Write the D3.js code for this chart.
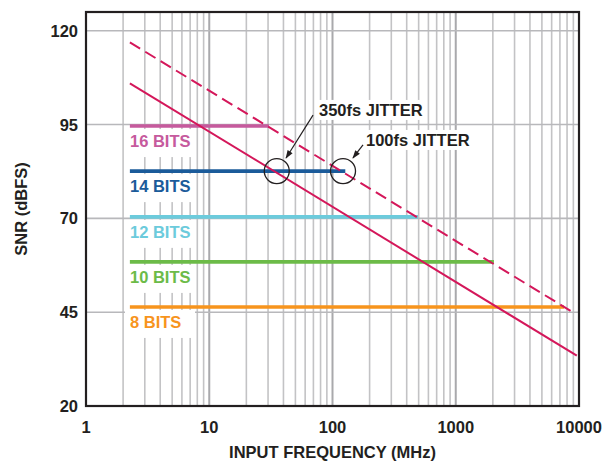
<!DOCTYPE html>
<html><head><meta charset="utf-8">
<script src="https://cdn.jsdelivr.net/npm/d3@7"></script>
<style>body{margin:0;background:#fff}svg{display:block}text{font-family:"Liberation Sans",Arial,sans-serif;font-weight:bold}</style>
</head><body>
<svg id="c" width="611" height="461"></svg>
<script>
// ---- data ----
const xTicks = [1, 10, 100, 1000, 10000];
const yTicks = [20, 45, 70, 95, 120];
const bitLabels = ["16 BITS", "14 BITS", "12 BITS", "10 BITS", "8 BITS"];
const bitSNR = [94.6, 82.6, 70.4, 58.4, 46.4];
const bitStart = [2.27, 2.27, 2.27, 2.27, 2.27];
const bitEnd = [30.5, 127, 494, 2040, 7560];
const bitColors = ["#c65a9d", "#1b5b9a", "#6ccbdc", "#6cbb48", "#f7941d"];
const jitter100fs = [[2.27, 116.9], [8900, 45.0]];
const jitter350fs = [[2.27, 106.0], [9600, 33.4]];
const circles = [[35.3, 82.6], [121.7, 82.6]];
const annLabels = ["350fs JITTER", "100fs JITTER"];
const annPos = [[77.7, 98.9], [187, 90.9]];
const arrows = [[[69.5, 97.5], [42.0, 86.1]], [[176.8, 89.6], [146.6, 86.1]]];

// ---- layout ----
const L = 86, R = 579, T = 12, B = 406;
const FS = 16.5;
const svg = d3.select("#c");
const x = d3.scaleLog().domain([1, 10000]).range([L, R]);
const y = d3.scaleLinear().domain([20, 125]).range([B, T]);
const ink = "#231f20", jitCol = "#d4175a";

// grid
const minor = [];
for (let d = 1; d < 10000; d *= 10) for (let k = 2; k <= 9; k++) minor.push(d * k);
svg.append("g").selectAll("line").data(minor).join("line")
  .attr("x1", d => x(d)).attr("x2", d => x(d)).attr("y1", T).attr("y2", B)
  .attr("stroke", "#c3c3c5").attr("stroke-width", 1.6);
svg.append("g").selectAll("line").data(xTicks.slice(1, -1)).join("line")
  .attr("x1", d => x(d)).attr("x2", d => x(d)).attr("y1", T).attr("y2", B)
  .attr("stroke", "#a9a9ac").attr("stroke-width", 2);
svg.append("g").selectAll("line").data(yTicks.slice(1)).join("line")
  .attr("x1", L).attr("x2", R).attr("y1", d => y(d)).attr("y2", d => y(d))
  .attr("stroke", "#b8b8bb").attr("stroke-width", 1.6);

// bit label boxes
svg.append("g").selectAll("rect").data(bitSNR).join("rect")
  .attr("x", 125).attr("width", 70).attr("y", d => y(d) + 3).attr("height", 28)
  .attr("fill", "#fff");

// bit lines
svg.append("g").selectAll("line").data(bitSNR).join("line")
  .attr("x1", (d, i) => x(bitStart[i])).attr("x2", (d, i) => x(bitEnd[i]))
  .attr("y1", d => y(d)).attr("y2", d => y(d))
  .attr("stroke", (d, i) => bitColors[i]).attr("stroke-width", 3.6);
svg.append("g").selectAll("text").data(bitLabels).join("text")
  .attr("x", 130).attr("y", (d, i) => y(bitSNR[i]) + 21)
  .attr("font-size", FS).attr("fill", (d, i) => bitColors[i]).text(d => d);

// jitter lines
const line = d3.line().x(d => x(d[0])).y(d => y(d[1]));
svg.append("path").datum(jitter350fs).attr("d", line).attr("fill", "none")
  .attr("stroke", jitCol).attr("stroke-width", 2);
svg.append("path").datum(jitter100fs).attr("d", line).attr("fill", "none")
  .attr("stroke", jitCol).attr("stroke-width", 2).attr("stroke-dasharray", "12,6");

// circles
svg.append("g").selectAll("circle").data(circles).join("circle")
  .attr("cx", d => x(d[0])).attr("cy", d => y(d[1])).attr("r", 12.5)
  .attr("fill", "none").attr("stroke", ink).attr("stroke-width", 1.3);

// annotation labels with white boxes
const ag = svg.append("g");
annLabels.forEach((t, i) => {
  const tx = ag.append("text").attr("x", x(annPos[i][0])).attr("y", y(annPos[i][1]) + 6)
    .attr("font-size", FS).attr("fill", ink).text(t);
  const bb = tx.node().getBBox();
  ag.insert("rect", "text").attr("x", bb.x - 3).attr("y", bb.y - 1)
    .attr("width", bb.width + 6).attr("height", bb.height + 2).attr("fill", "#fff");
});

// arrows
const defs = svg.append("defs");
defs.append("marker").attr("id", "ah").attr("viewBox", "0 0 10 10").attr("refX", 9).attr("refY", 5)
  .attr("markerWidth", 8).attr("markerHeight", 7).attr("orient", "auto")
  .append("path").attr("d", "M0,1.5 L10,5 L0,8.5 Z").attr("fill", ink);
svg.append("g").selectAll("line").data(arrows).join("line")
  .attr("x1", d => x(d[0][0])).attr("y1", d => y(d[0][1]))
  .attr("x2", d => x(d[1][0])).attr("y2", d => y(d[1][1]))
  .attr("stroke", ink).attr("stroke-width", 1.2).attr("marker-end", "url(#ah)");

// frame
svg.append("rect").attr("x", L).attr("y", T).attr("width", R - L).attr("height", B - T)
  .attr("fill", "none").attr("stroke", ink).attr("stroke-width", 2.2);

// axes tick labels
svg.append("g").selectAll("text").data(yTicks).join("text")
  .attr("x", 78).attr("y", d => y(d) + 6).attr("text-anchor", "end")
  .attr("font-size", FS).attr("fill", ink).text(d => d);
svg.append("g").selectAll("text").data(xTicks).join("text")
  .attr("x", d => x(d)).attr("y", 433).attr("text-anchor", "middle")
  .attr("font-size", FS).attr("fill", ink).text(d => d);

// titles
svg.append("text").attr("x", (L + R) / 2).attr("y", 458).attr("text-anchor", "middle")
  .attr("font-size", FS).attr("fill", ink).text("INPUT FREQUENCY (MHz)");
svg.append("text").attr("transform", "translate(27," + ((T + B) / 2) + ") rotate(-90)")
  .attr("text-anchor", "middle").attr("font-size", FS).attr("fill", ink).text("SNR (dBFS)");
</script>
</body></html>
